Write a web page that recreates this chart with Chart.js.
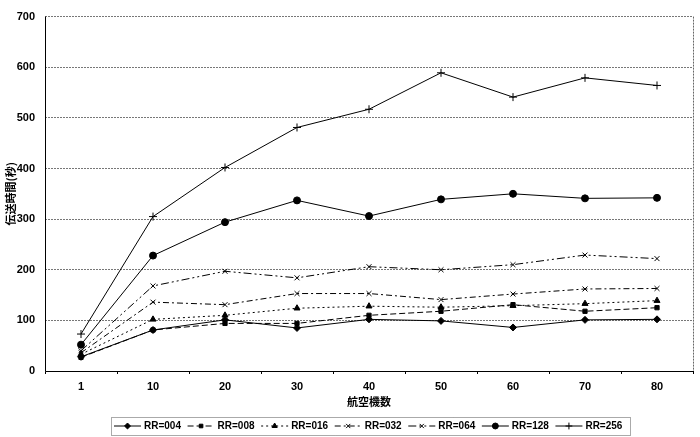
<!DOCTYPE html>
<html>
<head>
<meta charset="utf-8">
<script src="https://cdn.jsdelivr.net/npm/chart.js@4/dist/chart.umd.min.js"></script>
<style>
html, body { margin: 0; padding: 0; background: #fff; }
</style>
</head>
<body>
<canvas id="myChart" width="700" height="437"></canvas>
<script>
// number of aircraft (x categories)
var planes = ["1", "10", "20", "30", "40", "50", "60", "70", "80"];

// transmission time (s) per RR setting
var rr004 = [28, 81, 101, 85, 102, 99, 86, 101, 102];
var rr008 = [27, 81, 94, 94, 110, 118, 131, 118, 125];
var rr016 = [33, 102, 110, 124, 128, 126, 129, 133, 139];
var rr032 = [36, 136, 131, 153, 153, 141, 152, 162, 163];
var rr064 = [40, 168, 197, 184, 206, 200, 210, 229, 222];
var rr128 = [52, 228, 294, 337, 306, 339, 350, 341, 342];
var rr256 = [73, 305, 402, 481, 517, 589, 541, 579, 564];

var yTicks = [0, 100, 200, 300, 400, 500, 600, 700];

var seriesNames = ["RR=004", "RR=008", "RR=016", "RR=032", "RR=064", "RR=128", "RR=256"];
var seriesData = [rr004, rr008, rr016, rr032, rr064, rr128, rr256];
var dashes = [[], [6, 3], [2, 3], [6, 3, 2, 3], [8, 3, 2, 3, 2, 3], [], []];
var marks = ["rectRot", "rect", "triangle", "crossRot", "crossRot", "circle", "cross"];
var sizes = [3.5, 3, 3.5, 3.5, 3.5, 3.5, 4];

var tickFont = { family: '"Liberation Sans", Arial, sans-serif', size: 11, weight: "bold" };

var datasets = [];
for (var i = 0; i < seriesNames.length; i++) {
    datasets.push({
        label: seriesNames[i],
        data: seriesData[i],
        borderColor: "#000",
        backgroundColor: "#000",
        borderWidth: 1,
        borderDash: dashes[i],
        tension: 0,
        pointStyle: marks[i],
        pointRadius: sizes[i],
        pointBorderWidth: 1,
        pointBorderColor: "#000",
        pointBackgroundColor: "#000"
    });
}

// right dotted frame + solid left/bottom axes
var framePlugin = {
    id: "frame",
    afterDraw: function (chart) {
        var a = chart.chartArea, ctx = chart.ctx;
        ctx.save();
        ctx.strokeStyle = "#666";
        ctx.lineWidth = 1;
        ctx.setLineDash([2, 1]);
        ctx.beginPath();
        ctx.moveTo(Math.round(a.right) + 0.5, a.top);
        ctx.lineTo(Math.round(a.right) + 0.5, a.bottom);
        ctx.stroke();
        ctx.setLineDash([]);
        ctx.strokeStyle = "#000";
        ctx.beginPath();
        ctx.moveTo(Math.round(a.left) + 0.5, a.top);
        ctx.lineTo(Math.round(a.left) + 0.5, a.bottom + 0.5);
        ctx.lineTo(a.right, a.bottom + 0.5);
        ctx.stroke();
        ctx.restore();
    }
};

// legend with line sample and marker, in a box under the axis title
var legendPlugin = {
    id: "lineLegend",
    afterDraw: function (chart) {
        var ctx = chart.ctx;
        var boxLeft = 111, boxTop = 417, boxRight = 630, boxBottom = 435;
        var cy = (boxTop + boxBottom) / 2;
        var dsList = chart.data.datasets;
        var pitch = (boxRight - boxLeft - 4) / dsList.length;
        ctx.save();
        ctx.strokeStyle = "#555";
        ctx.lineWidth = 1;
        ctx.setLineDash([1, 1]);
        ctx.strokeRect(boxLeft + 0.5, boxTop + 0.5, boxRight - boxLeft, boxBottom - boxTop);
        ctx.setLineDash([]);
        ctx.font = "bold 10px 'Liberation Sans', Arial, sans-serif";
        ctx.textBaseline = "middle";
        dsList.forEach(function (ds, k) {
            var x = boxLeft + 3 + k * pitch;
            ctx.strokeStyle = "#000";
            ctx.lineWidth = 1;
            ctx.setLineDash(ds.borderDash || []);
            ctx.beginPath();
            ctx.moveTo(x, cy);
            ctx.lineTo(x + 27, cy);
            ctx.stroke();
            ctx.setLineDash([]);
            ctx.fillStyle = "#000";
            Chart.helpers.drawPoint(ctx, {
                pointStyle: ds.pointStyle,
                radius: ds.pointRadius * 0.85,
                rotation: 0,
                borderWidth: 1
            }, x + 13.5, cy);
            ctx.fillStyle = "#000";
            ctx.fillText(ds.label, x + 30, cy + 0.5);
        });
        ctx.restore();
    }
};

new Chart(document.getElementById("myChart"), {
    type: "line",
    data: { labels: planes, datasets: datasets },
    plugins: [framePlugin, legendPlugin],
    options: {
        responsive: false,
        animation: false,
        devicePixelRatio: 1,
        layout: { padding: { top: 10, right: 7, bottom: 25, left: 0 } },
        plugins: {
            legend: { display: false },
            tooltip: { enabled: false }
        },
        scales: {
            x: {
                offset: true,
                grid: { display: true, drawOnChartArea: false, offset: true, tickLength: 3, color: "#000" },
                border: { display: false },
                ticks: { color: "#000", font: tickFont, padding: 6, maxRotation: 0 },
                title: {
                    display: true,
                    text: "航空機数",
                    color: "#000",
                    font: { family: '"Noto Sans CJK JP", sans-serif', size: 11, weight: "bold" },
                    padding: 4
                },
                afterFit: function (scale) { scale.height = 41; }
            },
            y: {
                min: 0,
                max: 700,
                afterBuildTicks: function (scale) {
                    scale.ticks = yTicks.map(function (v) { return { value: v }; });
                },
                grid: { color: "#777", lineWidth: 1, drawTicks: false },
                border: { display: false, dash: [2, 1] },
                ticks: { color: "#000", font: tickFont, padding: 10 },
                title: {
                    display: true,
                    text: "伝送時間(秒)",
                    color: "#000",
                    font: { family: '"Noto Sans CJK JP", sans-serif', size: 11, weight: "bold" },
                    padding: 4
                },
                afterFit: function (scale) { scale.width = 45; }
            }
        }
    }
});
</script>
</body>
</html>
